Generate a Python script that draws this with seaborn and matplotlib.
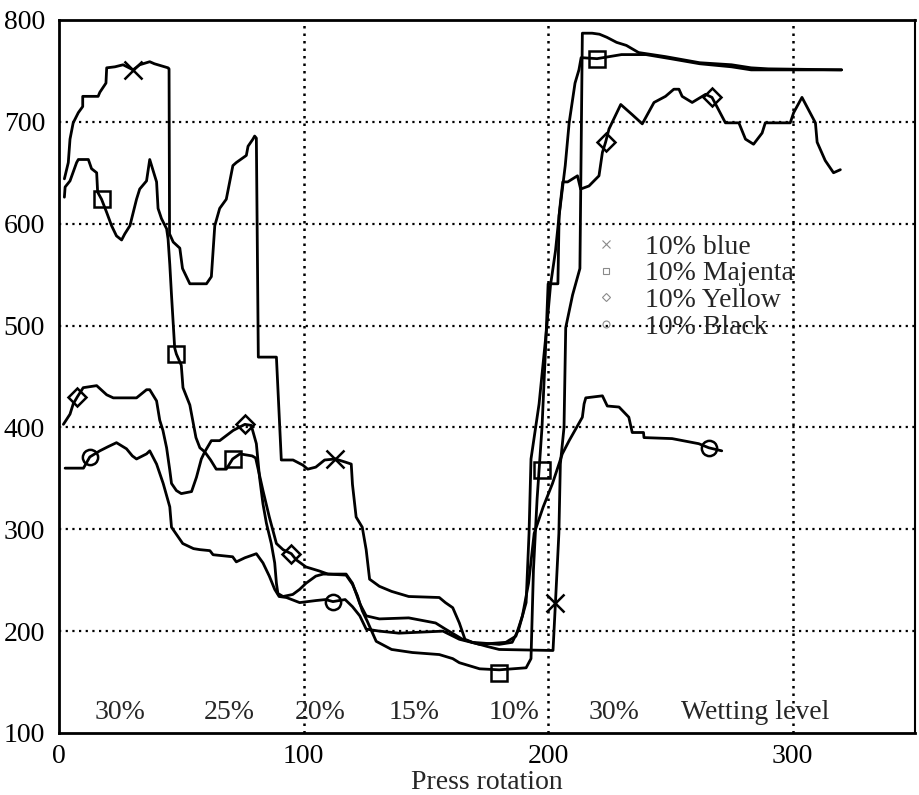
import matplotlib
matplotlib.use("Agg")
import matplotlib.pyplot as plt
from matplotlib.lines import Line2D
import seaborn as sns
import pandas as pd

# traced curves (press rotation, value)
blue_x = [2.2, 3.8, 4.5, 5.8, 7.9, 9.7, 9.7, 16, 16.7, 19.2, 19.5, 22.9, 26.2, 30.3, 33, 37.1, 39, 44.6, 45, 45.2,
          46.7, 49.4, 50.5, 53.5, 60.3, 62.3, 63.7, 65.7, 68.4, 71.1, 72.5, 76.6, 77.3, 79.3, 80, 80.7, 81.5, 88.9,
          90.9, 95.7, 99.7, 101.7, 105, 108.6, 113, 117, 119.5, 120, 121.5, 124, 125.6, 127, 131, 136, 143, 155.5,
          158, 161, 163.7, 166, 169, 175, 180, 202, 203, 204.4, 205, 206.5, 207.2, 210, 213, 214, 218, 221, 224,
          228, 232, 237, 248, 262, 275, 283, 290, 320]
blue_y = [644, 660, 683, 699, 709, 715, 725, 725, 729, 738, 753, 754, 756, 751, 756, 759, 757, 753, 752, 590,
          582, 576, 556, 541, 541, 548, 598, 615, 624, 657, 660, 667, 676, 683, 686, 684, 469, 469,
          368, 368, 363, 359, 361, 368, 369, 366, 364, 344, 312, 302, 280, 251, 244, 239, 234, 233,
          228, 223, 208, 192, 189, 185, 182, 181, 228, 296, 364, 400, 498, 530, 556, 787, 787, 786, 783,
          778, 775, 768, 764, 758, 756, 753, 752, 751]

majenta_x = [2.2, 2.5, 4.5, 7.2, 7.9, 12, 13.3, 15.4, 15.8, 17.4, 19.5, 21.5, 23.5, 25.6, 26.9, 29, 31.7, 33, 35.8,
             37.1, 39.9, 40.5, 41.9, 44, 44.6, 45.3, 46, 47.3, 48, 50, 50.7, 53.5, 56, 57.6, 59.6, 62, 64.3, 68.4,
             71, 74, 79, 80.4, 83.4, 86, 88.9, 91.6, 95, 97, 101, 106.5, 110, 117.4, 120, 122, 124, 126, 129.7,
             136, 144.5, 155.5, 161, 163.7, 172, 180, 191, 193, 194, 195.5, 197.5, 199, 200, 204, 204.5, 207,
             208.6, 211, 212.6, 213.5, 220, 230, 240, 250, 262, 275, 283, 320]
majenta_y = [626, 636, 642, 660, 663, 663, 654, 650, 631, 624, 611, 598, 588, 584, 590, 598, 624, 634, 642,
             663, 641, 615, 605, 595, 585, 560, 530, 478, 472, 461, 439, 422, 390, 380, 376, 368, 359, 359,
             369, 374, 372, 370, 338, 312, 286, 280, 276, 270, 263, 259, 256, 255, 246, 235, 220, 210, 190,
             182, 179, 177, 173, 169, 163, 162, 164, 173, 260, 330, 400, 480, 541, 541, 608, 657,
             699, 738, 751, 763, 762, 766, 766, 762, 757, 754, 751, 751]

yellow_x = [1.8, 4.5, 5.8, 7.5, 9.9, 15.4, 19.5, 22.2, 31.7, 35.8, 37.1, 39.9, 41.2, 42.5, 44, 45.3, 46, 48, 50,
            54.2, 56.2, 58.2, 59.6, 62.3, 65.7, 71.2, 76, 78.6, 80.7, 82, 83.4, 84.8, 86.8, 88.2, 88.9, 89.5,
            91.6, 95.6, 98.4, 101, 105, 108, 117.4, 120, 123, 125.6, 131, 143, 154, 158, 165, 169, 180, 185.3,
            188, 191, 192.2, 193, 196.3, 199.5, 201, 203, 205, 206, 208, 212, 213.3, 216.7, 220.8, 222.2, 223.5,
            224.9, 229.7, 234.4, 238.5, 243.3, 248, 251.4, 253.5, 254.8, 258.9, 264.4, 267, 269, 272.5, 278,
            280.7, 284, 287.5, 288.8, 299, 300.4, 303.8, 309.3, 310, 313.3, 316.7, 319.5]
yellow_y = [403, 413, 423, 430, 439, 441, 432, 429, 429, 437, 437, 426, 407, 397, 380, 358, 345, 338, 335,
            337, 351, 369, 376, 387, 387, 397, 403, 402, 384, 351, 325, 306, 286, 267, 247, 237,
            234, 236, 241, 247, 254, 256, 256, 247, 227, 215, 212, 213, 208, 202, 192, 189, 187, 189,
            202, 228, 296, 369, 423, 500, 540, 573, 620, 641, 641, 647, 634, 637, 647, 670, 680,
            693, 717, 707, 698, 719, 725, 732, 732, 725, 719, 727, 724, 715, 699, 699,
            683, 678, 689, 699, 699, 709, 724, 699, 680, 662, 650, 653]

black_x = [2.5, 10, 12.6, 16.7, 20, 23.5, 27.6, 30, 31.7, 35.8, 37.1, 39.9, 42.6, 45.3, 46, 50.6, 55, 57.6, 61.7,
           63, 71, 72.5, 76, 80.7, 83.4, 86, 88.2, 90, 93, 98.4, 105, 109, 112, 117, 120, 123, 125.6, 131, 139,
           157, 163.7, 172, 182.7, 186.8, 189.5, 192, 194.3, 198, 201.8, 205.8, 208.6, 214, 214.7, 215.4, 222.2,
           224.2, 229, 233, 234.4, 239, 239.2, 250.7, 261.6, 265.7, 271]
black_y = [360, 360, 371, 377, 381, 385, 379, 372, 369, 374, 377, 364, 345, 322, 302, 286, 281, 280, 279,
           275, 273, 268, 272, 276, 267, 254, 241, 234, 233, 228, 230, 231, 229, 231, 224, 215, 202, 200, 198,
           200, 192, 187, 189, 195, 215, 247, 296, 322, 345, 374, 387, 410, 423, 429, 431,
           421, 420, 410, 395, 395, 390, 389, 384, 380, 377]

# marker positions
blue_mx = [30.3, 113, 203]
blue_my = [751, 369, 228]
majenta_mx = [17.4, 48, 71, 180, 197.7, 220]
majenta_my = [624, 472, 369, 159, 358, 762]
yellow_mx = [7.5, 76, 95, 223.5, 267]
yellow_my = [430, 403, 276, 680, 724]
black_mx = [12.6, 112, 265.7]
black_my = [371, 229, 380]

labels = ["10% blue", "10% Majenta", "10% Yellow", "10% Black"]
wetting_x = [24.9, 69.8, 107, 145, 186, 227, 284.5]
wetting_txt = ["30%", "25%", "20%", "15%", "10%", "30%", "Wetting level"]

frames = []
for name, xs, ys in [("blue", blue_x, blue_y), ("majenta", majenta_x, majenta_y),
                     ("yellow", yellow_x, yellow_y), ("black", black_x, black_y)]:
    frames.append(pd.DataFrame({"series": name, "x": xs, "y": ys}))
df = pd.concat(frames, ignore_index=True)

sns.set_theme(style="white")
plt.rcParams['font.family'] = ['Liberation Serif', 'DejaVu Serif']

fs = 20
fig = plt.figure(figsize=(9.19, 7.95), dpi=100)
ax = fig.add_axes([0.0642, 0.078, 0.9314, 0.8969])

sns.lineplot(data=df, x="x", y="y", units="series", estimator=None, sort=False,
             color="black", linewidth=2.0, legend=False, ax=ax)

mk = dict(linestyle="none", color="black", markerfacecolor="none", markeredgewidth=1.8)
ax.plot(blue_mx, blue_my, marker="x", markersize=13, **mk)
ax.plot(majenta_mx, majenta_my, marker="s", markersize=12, **mk)
ax.plot(yellow_mx, yellow_my, marker="D", markersize=9, **mk)
ax.plot(black_mx, black_my, marker="o", markersize=11, **mk)

ax.set_xlim(0, 350)
ax.set_ylim(100, 800)
ax.set_xticks([0, 100, 200, 300])
ax.set_yticks(range(100, 801, 100))
ax.tick_params(axis="y", length=0, pad=10, labelsize=fs, colors="black")
ax.tick_params(axis="x", length=0, pad=8, labelsize=fs, colors="black")
ax.set_xlabel("Press rotation", fontsize=fs, labelpad=1)
ax.set_ylabel("")

for v in [100, 200, 300]:
    ax.axvline(v, color="black", linestyle=(0, (1, 2)), linewidth=1.8, zorder=0)
for v in range(200, 800, 100):
    ax.axhline(v, color="black", linestyle=(0, (1, 2)), linewidth=1.6, zorder=0)

for sp in ax.spines.values():
    sp.set_color("black")
    sp.set_linewidth(2)
ax.spines["right"].set_linewidth(1.5)

for xv, t in zip(wetting_x, wetting_txt):
    ax.text(xv, 114, t, ha="center", va="baseline", fontsize=fs)

gray = "#8a8a8a"
handles = [Line2D([], [], linestyle="none", marker="x", markersize=6, color=gray, markeredgewidth=0.8),
           Line2D([], [], linestyle="none", marker="s", markersize=5, color=gray, markerfacecolor="none", markeredgewidth=0.8),
           Line2D([], [], linestyle="none", marker="D", markersize=4, color=gray, markerfacecolor="none", markeredgewidth=0.8),
           Line2D([], [], linestyle="none", marker="o", markersize=5, color=gray, markerfacecolor="none", markeredgewidth=0.8)]
ax.legend(handles, labels, loc="upper left", bbox_to_anchor=(0.6, 0.727), frameon=False,
          handlelength=1.0, handletextpad=0.9, labelspacing=0.05, borderpad=0.2, fontsize=fs)

fig.savefig("out.png", dpi=100)
